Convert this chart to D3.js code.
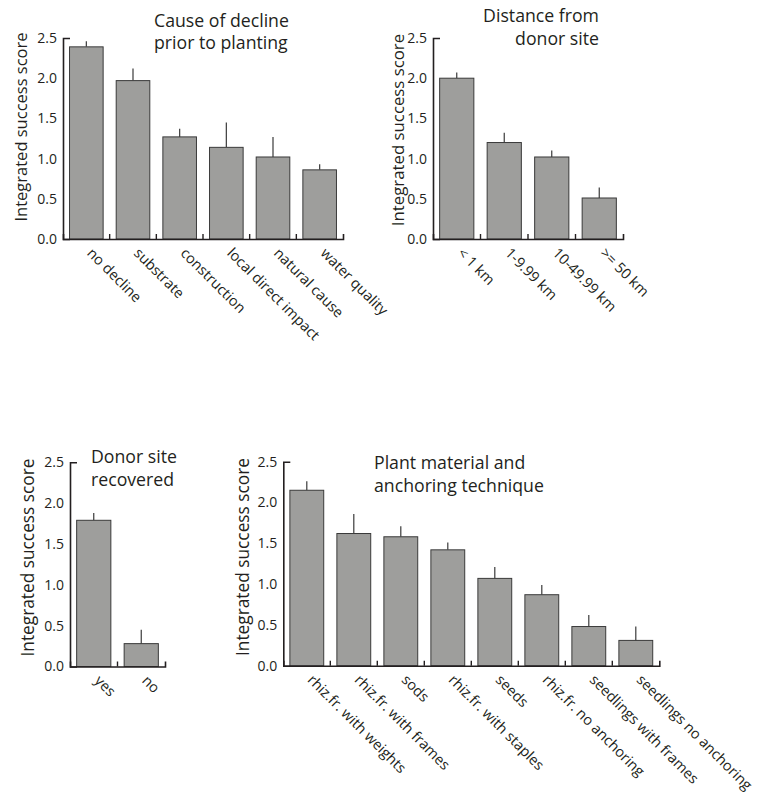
<!DOCTYPE html>
<html lang="en">
<head>
<meta charset="UTF-8">
<title>Integrated success score</title>
<script src="https://d3js.org/d3.v7.min.js"></script>
<style>
  body { margin: 0; background: #fff; }
  text { font-family: "Open Sans", "Noto Sans", sans-serif; fill: #231f20; }
</style>
</head>
<body>
<div id="chart"></div>
<script>
// ---- data ----
var causeCats = ["no decline", "substrate", "construction", "local direct impact", "natural cause", "water quality"];
var causeMeans = [2.39, 1.97, 1.27, 1.14, 1.02, 0.86];
var causeSE = [0.07, 0.15, 0.10, 0.31, 0.25, 0.07];

var distCats = ["< 1 km", "1-9.99 km", "10-49.99 km", ">= 50 km"];
var distMeans = [2.0, 1.2, 1.02, 0.51];
var distSE = [0.07, 0.12, 0.08, 0.13];

var donorCats = ["yes", "no"];
var donorMeans = [1.79, 0.28];
var donorSE = [0.09, 0.17];

var plantCats = ["rhiz.fr. with weights", "rhiz.fr. with frames", "sods", "rhiz.fr. with staples",
                 "seeds", "rhiz.fr. no anchoring", "seedlings with frames", "seedlings no anchoring"];
var plantMeans = [2.15, 1.62, 1.58, 1.42, 1.07, 0.87, 0.48, 0.31];
var plantSE = [0.11, 0.24, 0.13, 0.09, 0.14, 0.12, 0.14, 0.17];

var yTicks = [0, 0.5, 1.0, 1.5, 2.0, 2.5];
var yLabel = "Integrated success score";

// ---- layout ----
var panels = [
  {cats: causeCats, means: causeMeans, se: causeSE, title: ["Cause of decline", "prior to planting"],
   x0: 63, x1: 343, yBot: 239, yTop: 38, titleX: 154, titleY: 26.5, titleAnchor: "start",
   labX: 27, labY: 127, labSize: 16.5},
  {cats: distCats, means: distMeans, se: distSE, title: ["Distance from", "donor site"],
   x0: 433, x1: 623, yBot: 239, yTop: 38, titleX: 599, titleY: 22, titleAnchor: "end",
   labX: 404, labY: 130, labSize: 16.8},
  {cats: donorCats, means: donorMeans, se: donorSE, title: ["Donor site", "recovered"],
   x0: 70, x1: 165, yBot: 666.5, yTop: 462.3, titleX: 91, titleY: 463, titleAnchor: "start",
   labX: 33.5, labY: 557.5, labSize: 17.3},
  {cats: plantCats, means: plantMeans, se: plantSE, title: ["Plant material and", "anchoring technique"],
   x0: 283.3, x1: 659.3, yBot: 665.7, yTop: 461.7, titleX: 374, titleY: 469, titleAnchor: "start",
   labX: 249, labY: 557, labSize: 17.3}
];

var svg = d3.select("#chart").append("svg")
    .attr("width", 759)
    .attr("height", 800);

function drawPanel(p) {
    var x = d3.scaleBand().domain(p.cats).range([p.x0, p.x1])
        .paddingInner(0.28).paddingOuter(0.14);
    var y = d3.scaleLinear().domain([0, 2.5]).range([p.yBot, p.yTop]);
    var g = svg.append("g");
    var rows = p.cats.map(function(c, i) { return {cat: c, mean: p.means[i], se: p.se[i]}; });

    // error bars (upper only)
    g.selectAll(".err").data(rows).enter().append("line")
        .attr("x1", function(d) { return x(d.cat) + x.bandwidth() / 2; })
        .attr("x2", function(d) { return x(d.cat) + x.bandwidth() / 2; })
        .attr("y1", function(d) { return y(d.mean); })
        .attr("y2", function(d) { return y(d.mean + d.se); })
        .attr("stroke", "#3a3a3a")
        .attr("stroke-width", 1.2);

    g.selectAll(".bar").data(rows).enter().append("rect")
        .attr("x", function(d) { return x(d.cat); })
        .attr("y", function(d) { return y(d.mean); })
        .attr("width", x.bandwidth())
        .attr("height", function(d) { return y(0) - y(d.mean); })
        .attr("fill", "#9e9e9c")
        .attr("stroke", "#3a3a3a")
        .attr("stroke-width", 1);

    // y axis
    var ya = g.append("g").attr("transform", "translate(" + p.x0 + ",0)")
        .call(d3.axisLeft(y).tickValues(yTicks).tickSizeInner(0).tickSizeOuter(-7)
              .tickPadding(6).tickFormat(d3.format(".1f")));
    ya.selectAll("text").style("font-size", "14px").style("font-family", null).attr("fill", "#231f20");
    ya.select(".domain").attr("stroke", "#231f20").attr("stroke-width", 1.6);

    // x axis
    var xa = g.append("g").attr("transform", "translate(0," + p.yBot + ")")
        .call(d3.axisBottom(x).tickSizeInner(0).tickSizeOuter(-5).tickFormat(""));
    xa.select(".domain").attr("stroke", "#231f20").attr("stroke-width", 1.6);
    xa.selectAll(".tick line").remove();
    var gap = (x.step() - x.bandwidth()) / 2;
    xa.selectAll(".sep").data(p.cats.slice(1)).enter().append("line")
        .attr("x1", function(c) { return x(c) - gap; })
        .attr("x2", function(c) { return x(c) - gap; })
        .attr("y1", 0).attr("y2", -5)
        .attr("stroke", "#231f20").attr("stroke-width", 1.4);

    // category labels
    g.selectAll(".cat").data(p.cats).enter().append("text")
        .attr("transform", function(c) {
            return "translate(" + (x(c) + x.bandwidth() / 2) + "," + (p.yBot + 15) + ") rotate(45)";
        })
        .attr("text-anchor", "start")
        .style("font-size", "14.5px")
        .text(function(c) { return c; });

    // y label
    g.append("text")
        .attr("transform", "translate(" + p.labX + "," + p.labY + ") rotate(-90)")
        .attr("text-anchor", "middle")
        .style("font-size", p.labSize + "px")
        .text(yLabel);

    // title
    g.selectAll(".ttl").data(p.title).enter().append("text")
        .attr("x", p.titleX)
        .attr("y", function(t, i) { return p.titleY + i * 22.5; })
        .attr("text-anchor", p.titleAnchor)
        .style("font-size", "17.7px")
        .text(function(t) { return t; });
}

panels.forEach(drawPanel);
</script>
</body>
</html>
